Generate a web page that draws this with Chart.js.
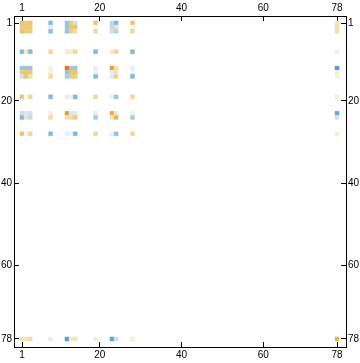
<!DOCTYPE html>
<html>
<head>
<meta charset="utf-8">
<style>
html, body { margin: 0; padding: 0; background: #fff; }
#wrap { width: 360px; height: 363px; }
</style>
<script src="https://cdn.jsdelivr.net/npm/chart.js@4/dist/chart.umd.min.js"></script>
</head>
<body>
<div id="wrap"><canvas id="myChart" width="360" height="363"></canvas></div>
<script>
var tickLabels = [1, 20, 40, 60, 78];
var rowNumbers = [1, 2, 3, 8, 12, 13, 14, 19, 23, 24, 28, 78];
var colNumbers = [1, 2, 3, 8, 12, 13, 14, 19, 23, 24, 25, 28, 78];

// one line per row, same order as colNumbers, 0 = empty cell
var row1  = [.45, .4, .45, -.5, -.4, .4, -.2, .45, -.25, -.5, 0, .45, .2];
var row2  = [.4, .4, .4, -.1, -.4, .45, .45, .05, -.25, .2, 0, .05, .25];
var row3  = [.45, .4, .4, -.45, -.4, .4, .25, .3, -.2, -.3, 0, .3, .22];
var row8  = [-.5, .15, -.5, .3, .12, .12, .3, -.5, .15, .3, 0, -.5, -.1];
var row12 = [-.4, -.4, -.4, .1, 1, -.4, -.4, -.1, .7, .25, 0, -.1, -.75];
var row13 = [.4, .45, .45, .1, -.4, .45, .45, -.08, -.12, .2, 0, -.06, .12];
var row14 = [-.2, .45, .25, .3, -.35, .4, .4, -.5, -.12, .35, 0, -.5, .12];
var row19 = [.45, -.05, .3, -.5, -.1, -.06, -.5, .3, -.08, -.4, 0, .3, .1];
var row23 = [-.2, -.15, -.2, .1, .65, -.15, -.15, -.1, .6, .15, 0, -.08, -.65];
var row24 = [-.5, .2, -.25, .27, .25, .25, .4, -.35, .2, .55, 0, -.35, -.18];
var row28 = [.45, -.05, .3, -.5, -.1, -.06, -.5, .3, -.08, -.4, 0, .3, .1];
var row78 = [.2, .2, .25, -.1, -.7, .15, .2, .12, -.65, -.2, 0, .12, .55];
var allRows = [row1, row2, row3, row8, row12, row13, row14, row19, row23, row24, row28, row78];

// range of the frame, the matrix sits inside with some padding
var xMin = -0.956, xMax = 80.2;
var yMin = -0.706, yMax = 79.95;

var posStops = [[0, 255, 255, 255], [.1, 245, 240, 218], [.3, 238, 217, 155], [.45, 235, 198, 110], [.65, 229, 165, 44], [1, 253, 106, 2]];
var negStops = [[0, 255, 255, 255], [.1, 228, 240, 247], [.25, 193, 218, 235], [.4, 155, 197, 222], [.55, 123, 178, 213], [.8, 78, 147, 212]];

function cellColor(v) {
    var stops = v > 0 ? posStops : negStops;
    var a = Math.abs(v);
    for (var i = 1; i < stops.length; i++) {
        if (a <= stops[i][0]) {
            var t = (a - stops[i - 1][0]) / (stops[i][0] - stops[i - 1][0]);
            var c = [1, 2, 3].map(function (k) {
                return Math.round(stops[i - 1][k] + t * (stops[i][k] - stops[i - 1][k]));
            });
            return 'rgb(' + c.join(',') + ')';
        }
    }
    return 'rgb(' + stops[stops.length - 1].slice(1).join(',') + ')';
}

var cells = [];
allRows.forEach(function (line, r) {
    line.forEach(function (v, c) {
        if (v != 0) {
            cells.push({ x: colNumbers[c], y: rowNumbers[r], v: v });
        }
    });
});

// fixed band around the plot so the frame lands on the same pixels
var bands = { left: 14, right: 14, top: 16, bottom: 16 };

function axis(position, reverse, min, max) {
    return {
        type: 'linear',
        position: position,
        reverse: reverse,
        min: min,
        max: max,
        afterBuildTicks: function (scale) {
            scale.ticks = tickLabels.map(function (t) { return { value: t }; });
        },
        afterFit: function (scale) {
            if (position == 'left' || position == 'right') {
                scale.width = bands[position];
            } else {
                scale.height = bands[position];
            }
        },
        ticks: {
            autoSkip: false,
            maxRotation: 0,
            padding: 7,
            color: '#000',
            font: { family: '"Liberation Sans"', size: 10 },
            callback: function (v) { return v; }
        },
        border: { display: true, color: '#000', width: 1 },
        grid: { drawOnChartArea: false, drawTicks: true, tickLength: -5, tickColor: '#000', tickWidth: 1 }
    };
}

var config = {
    type: 'scatter',
    data: {
        datasets: [{
            data: cells,
            xAxisID: 'x',
            yAxisID: 'y',
            pointStyle: 'rect',
            pointBorderWidth: 0.4,
            pointRadius: function (ctx) {
                var s = ctx.chart.scales.x;
                return Math.abs(s.getPixelForValue(1) - s.getPixelForValue(0)) * Math.SQRT1_2;
            },
            pointHoverRadius: 0,
            pointBackgroundColor: function (ctx) {
                return ctx.raw ? cellColor(ctx.raw.v) : '#fff';
            },
            pointBorderColor: function (ctx) {
                return ctx.raw ? cellColor(ctx.raw.v) : '#fff';
            }
        }]
    },
    options: {
        responsive: false,
        animation: false,
        layout: { padding: 0 },
        plugins: { legend: { display: false }, tooltip: { enabled: false } },
        scales: {
            x: axis('bottom', false, xMin, xMax),
            x2: axis('top', false, xMin, xMax),
            y: axis('left', true, yMin, yMax),
            y2: axis('right', true, yMin, yMax)
        }
    }
};
var myChart = new Chart(document.getElementById('myChart'), config);
</script>
</body>
</html>
